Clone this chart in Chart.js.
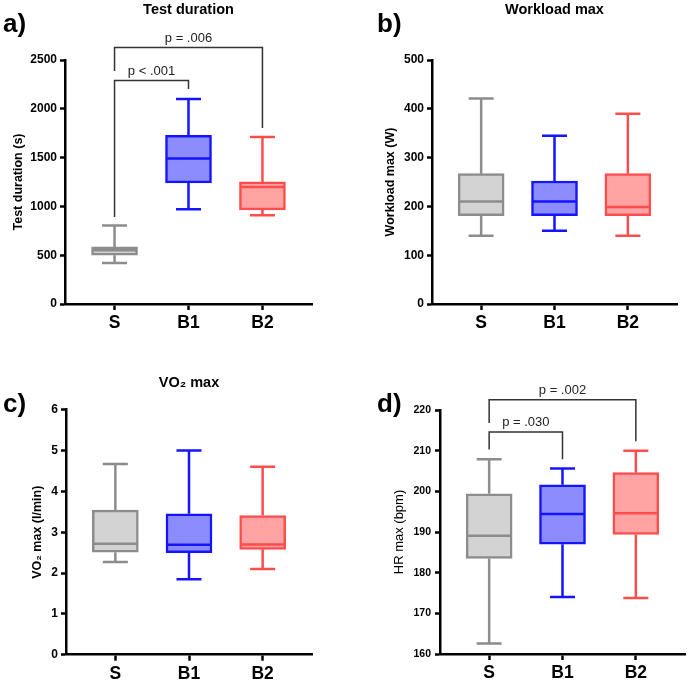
<!DOCTYPE html>
<html>
<head>
<meta charset="utf-8">
<script src="https://cdn.jsdelivr.net/npm/chart.js@4.4.0/dist/chart.umd.min.js"></script>
<style>
  body { margin: 0; background: #fff; width: 690px; height: 684px; position: relative; overflow: hidden; }
  .panel { position: absolute; width: 345px; height: 342px; }
</style>
</head>
<body>
<div class="panel" style="left:0;top:0"><canvas id="chartA" width="345" height="342"></canvas></div>
<div class="panel" style="left:345px;top:0"><canvas id="chartB" width="345" height="342"></canvas></div>
<div class="panel" style="left:0;top:342px"><canvas id="chartC" width="345" height="342"></canvas></div>
<div class="panel" style="left:345px;top:342px"><canvas id="chartD" width="345" height="342"></canvas></div>
<script>
const groups = ['S', 'B1', 'B2'];

// [min, q1, median, q3, max] for S, B1, B2
const durationBox = [[420, 500, 550, 585, 805], [972, 1241, 1490, 1729, 2100], [910, 965, 1200, 1251, 1712]];
const workloadBox = [[140, 181, 210, 267, 421], [150, 181, 210, 252, 345], [140, 181, 199, 267, 390]];
const vo2Box = [[2.27, 2.51, 2.72, 3.54, 4.67], [1.85, 2.50, 2.69, 3.45, 5.0], [2.10, 2.58, 2.70, 3.41, 4.60]];
const hrBox = [[162.6, 183.5, 189.1, 199.4, 207.9], [174.0, 187.0, 194.4, 201.6, 205.6], [173.8, 189.4, 194.6, 204.6, 210.0]];

const durationTicks = [0, 500, 1000, 1500, 2000, 2500];
const workloadTicks = [0, 100, 200, 300, 400, 500];
const vo2Ticks = [0, 1, 2, 3, 4, 5, 6];
const hrTicks = [160, 170, 180, 190, 200, 210, 220];

// significance brackets: groups joined, bar height, drop ends, label
const durationPairs = [
  { from: 0, to: 1, y: 2289, ends: [892, 2204], text: 'p < .001' },
  { from: 0, to: 2, y: 2627, ends: [2388, 1804], text: 'p = .006' }
];
const hrPairs = [
  { from: 0, to: 1, y: 214.6, ends: [210.3, 207.9], text: 'p = .030' },
  { from: 0, to: 2, y: 222.5, ends: [216.8, 212.3], text: 'p = .002' }
];

const lineColors = ['#8c8c8c', '#1414ff', '#ff4d4d'];
const fillColors = ['#d3d3d3', '#8c8cff', '#ffa3a3'];
const FONT = 'Arial, "Liberation Sans", sans-serif';

const boxExtras = {
  id: 'boxExtras',
  afterDatasetsDraw(chart, args, opts) {
    const { ctx, scales: { x, y }, chartArea } = chart;
    ctx.save();
    ctx.lineWidth = 2.5;
    opts.stats.forEach((s, i) => {
      const cx = x.getPixelForValue(i);
      const [lo, q1, med, q3, hi] = s.map(v => y.getPixelForValue(v));
      ctx.strokeStyle = lineColors[i];
      ctx.beginPath();
      ctx.moveTo(cx, q3); ctx.lineTo(cx, hi);
      ctx.moveTo(cx, q1); ctx.lineTo(cx, lo);
      ctx.moveTo(cx - 12.5, hi); ctx.lineTo(cx + 12.5, hi);
      ctx.moveTo(cx - 12.5, lo); ctx.lineTo(cx + 12.5, lo);
      ctx.moveTo(cx - 22, med); ctx.lineTo(cx + 22, med);
      ctx.stroke();
    });

    ctx.strokeStyle = '#333';
    ctx.lineWidth = 1.5;
    ctx.fillStyle = '#222';
    ctx.font = '13px ' + FONT;
    ctx.textAlign = 'center';
    ctx.textBaseline = 'alphabetic';
    (opts.pairs || []).forEach(p => {
      const x1 = x.getPixelForValue(p.from);
      const x2 = x.getPixelForValue(p.to);
      const yy = y.getPixelForValue(p.y);
      ctx.beginPath();
      ctx.moveTo(x1, y.getPixelForValue(p.ends[0]));
      ctx.lineTo(x1, yy);
      ctx.lineTo(x2, yy);
      ctx.lineTo(x2, y.getPixelForValue(p.ends[1]));
      ctx.stroke();
      ctx.fillText(p.text, (x1 + x2) / 2, yy - 6);
    });

    ctx.fillStyle = '#000';
    if (opts.title) {
      ctx.font = 'bold 14.5px ' + FONT;
      ctx.textBaseline = 'middle';
      ctx.fillText(opts.title, (chartArea.left + chartArea.right) / 2, opts.titleY);
    }
    ctx.font = 'bold 26px ' + FONT;
    ctx.textAlign = 'left';
    ctx.textBaseline = 'alphabetic';
    ctx.fillText(opts.letter, opts.letterX, opts.letterY);
    ctx.restore();
  }
};

function makePanel(id, p) {
  new Chart(document.getElementById(id), {
    type: 'bar',
    data: {
      datasets: [{
        data: p.stats.map((s, i) => ({ x: i, y: [s[1], s[3]] })),
        backgroundColor: fillColors,
        borderColor: lineColors,
        borderWidth: 2.5,
        borderSkipped: false,
        barThickness: 46
      }]
    },
    options: {
      responsive: false,
      animation: false,
      devicePixelRatio: 1,
      layout: {
        padding: { left: 0, top: p.area.top, right: 345 - p.area.right, bottom: 342 - p.area.bottom - 30 }
      },
      plugins: {
        legend: { display: false },
        tooltip: { enabled: false },
        boxExtras: {
          stats: p.stats, pairs: p.pairs, title: p.title, titleY: p.titleY,
          letter: p.letter, letterX: p.letterX, letterY: p.letterY
        }
      },
      scales: {
        x: {
          type: 'linear',
          min: -0.67,
          max: 2.67,
          offset: false,
          afterBuildTicks: s => { s.ticks = groups.map((g, i) => ({ value: i })); },
          afterFit: s => { s.height = 30; },
          ticks: {
            callback: v => groups[v],
            color: '#000',
            font: { family: FONT, size: 17.5, weight: 'bold' },
            padding: 3,
            maxRotation: 0,
            autoSkip: false
          },
          grid: { offset: false, drawOnChartArea: false, tickLength: 6, tickWidth: 2.5, tickColor: '#000' },
          border: { color: '#000', width: 2.5 }
        },
        y: {
          min: p.ticks[0],
          max: p.ticks[p.ticks.length - 1],
          afterBuildTicks: s => { s.ticks = p.ticks.map(v => ({ value: v })); },
          afterFit: s => { s.width = p.area.left; },
          ticks: {
            callback: v => String(v),
            color: '#000',
            font: { family: FONT, size: p.tickSize, weight: 'bold' },
            padding: p.tickPad
          },
          grid: { drawOnChartArea: false, tickLength: 5, tickWidth: 2.5, tickColor: '#000' },
          border: { color: '#000', width: 2.5 },
          title: {
            display: true,
            text: p.yTitle,
            color: '#000',
            font: { family: FONT, size: p.yTitleSize, weight: p.yTitleWeight },
            padding: { top: p.yTitlePad, bottom: 0 }
          }
        }
      }
    },
    plugins: [boxExtras]
  });
}

makePanel('chartA', {
  stats: durationBox, ticks: durationTicks, pairs: durationPairs,
  area: { left: 65, top: 60, right: 312, bottom: 304 },
  title: 'Test duration', titleY: 9.5, letter: 'a)', letterX: 3, letterY: 32,
  yTitle: 'Test duration (s)', yTitleSize: 12.5, yTitleWeight: 'bold', yTitlePad: 11,
  tickSize: 12, tickPad: 3
});
makePanel('chartB', {
  stats: workloadBox, ticks: workloadTicks,
  area: { left: 87, top: 60, right: 332, bottom: 304 },
  title: 'Workload max', titleY: 9.5, letter: 'b)', letterX: 32, letterY: 32,
  yTitle: 'Workload max (W)', yTitleSize: 12.5, yTitleWeight: 'bold', yTitlePad: 38.5,
  tickSize: 12, tickPad: 3
});
makePanel('chartC', {
  stats: vo2Box, ticks: vo2Ticks,
  area: { left: 66, top: 67.7, right: 312, bottom: 312.7 },
  title: 'VO\u2082 max', titleY: 41, letter: 'c)', letterX: 3, letterY: 70,
  yTitle: 'VO\u2082 max (l/min)', yTitleSize: 12.5, yTitleWeight: 'bold', yTitlePad: 30,
  tickSize: 12, tickPad: 3
});
makePanel('chartD', {
  stats: hrBox, ticks: hrTicks, pairs: hrPairs,
  area: { left: 95, top: 68, right: 340, bottom: 312 },
  title: '', letter: 'd)', letterX: 32, letterY: 70,
  yTitle: 'HR max (bpm)', yTitleSize: 13, yTitleWeight: 'normal', yTitlePad: 47,
  tickSize: 10.5, tickPad: 4
});
</script>
</body>
</html>
